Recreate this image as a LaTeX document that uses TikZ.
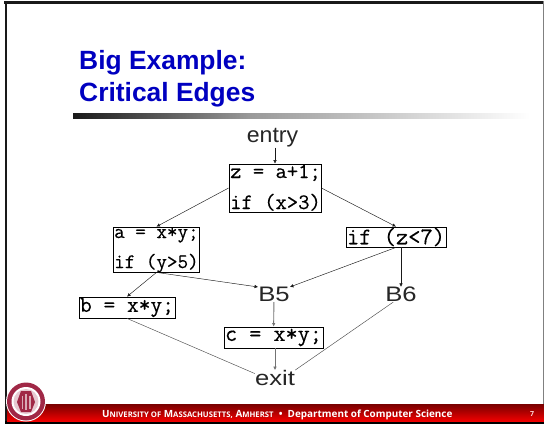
\documentclass[tikz,border=0pt]{standalone}
\usepackage{fontspec}
\setmainfont{Liberation Sans}
\newfontfamily\codefont[FakeBold=0.35]{Latin Modern Mono}
\newfontfamily\footfont{Open Sans}
\usetikzlibrary{arrows.meta,positioning,calc}
\definecolor{titleblue}{HTML}{0000C0}
\definecolor{umassred}{HTML}{A02846}
\definecolor{bandtop}{HTML}{780000}
\definecolor{bandlow}{HTML}{F00000}
\newcommand{\smcap}[2]{{\fontsize{9.9}{10}\selectfont #1}{\fontsize{7.7}{10}\selectfont #2}}

\begin{document}
\begin{tikzpicture}[
  x=1pt, y=-1pt,
  code/.style={draw, line width=0.8pt, rectangle, inner sep=0pt, align=left},
  word/.style={inner sep=0pt, text=black!85, font=\fontsize{21}{22}\selectfont},
  wide/.style={word, xscale=1.22},
  line/.style={-, line width=0.45pt, black!70},
  arr/.style={-{Latex[length=3.5pt,width=3.5pt]}, line width=0.45pt, black!90},
  heavy/.style={-{Latex[length=3.5pt,width=3.5pt]}, line width=0.9pt, black!55},
  foot/.style={text=white, inner sep=0pt, anchor=base west, font=\footfont\bfseries}
]
  \useasboundingbox (0,0) rectangle (544,424);
  % slide frame
  \fill[white] (0,0) rectangle (544,424);
  \fill[black!90] (4,1) rectangle (544,4);
  \fill[black!90] (5,1) rectangle (7,424);
  \fill[black!50] (543,1) rectangle (544,424);
  \fill[black] (5,421) rectangle (544,424);
  \shade[top color=bandtop, bottom color=bandlow] (7,404) rectangle (544,421);

  % title
  \node[anchor=base west, inner sep=0pt, text=titleblue, font=\fontsize{26.4}{32}\selectfont\bfseries] (title1) at (79,69) {Big Example:};
  \node[anchor=base west, inner sep=0pt, text=titleblue, font=\fontsize{26.4}{32}\selectfont\bfseries] (title2) at (79,101) {Critical Edges};
  \shade[left color=black!90, right color=black!40] (73,113) rectangle (250,118);
  \shade[left color=black!40, right color=white] (250,113) rectangle (530,118);

  % blocks
  \node[word, font=\fontsize{22}{24}\selectfont, xscale=1.05] (entry) at (272.5,138) {entry};
  \node[code, minimum width=92pt, minimum height=48pt] (zbox) at (275,188) {};
  \node[inner sep=0pt, anchor=base west, font=\fontsize{22}{24}\selectfont\codefont] (zline1) at (230,178) {z = a+1;};
  \node[inner sep=0pt, anchor=base west, font=\fontsize{22}{24}\selectfont\codefont] (zline2) at (230,209) {if (x>3)};
  \node[code, minimum width=100pt, minimum height=20pt, font=\fontsize{23.8}{24}\selectfont\codefont] (ifz) at (396,237) {if (z<7)};
  \node[code, minimum width=86pt, minimum height=45pt] (abox) at (156.5,249.5) {};
  \node[inner sep=0pt, anchor=base west, font=\fontsize{20.5}{24}\selectfont\codefont] (aline1) at (114,238) {a = x*y;};
  \node[inner sep=0pt, anchor=base west, font=\fontsize{20.5}{24}\selectfont\codefont] (aline2) at (114,268) {if (y>5)};
  \node[code, minimum width=96pt, minimum height=21pt, font=\fontsize{22.8}{24}\selectfont\codefont] (bbox) at (127,307.5) {b = x*y;};
  \node[code, minimum width=99pt, minimum height=21pt, font=\fontsize{23.5}{24}\selectfont\codefont] (cbox) at (273.5,337.5) {c = x*y;};
  \node[wide] (B5) at (274,294.5) {B5};
  \node[wide] (B6) at (401,294.5) {B6};
  \node[wide] (exit) at (275,378) {exit};

  % edges
  \draw[arr] (entry.south -| zbox.north) -- (zbox.north);
  \draw[arr] (zbox.west) -- (abox.north);
  \draw[arr] (zbox.east) -- (ifz.north);
  \draw[arr] (ifz.south) -- (B5.north east);
  \draw[arr] (ifz.south -| B6.north) -- (B6.north);
  \draw[arr] (abox.south) -- (bbox.north);
  \draw[arr] (abox.south) -- (B5.north west);
  \draw[heavy] (B5) -- (cbox);
  \draw[heavy] (cbox.south -| exit.north) -- (exit.north);
  \draw[line] (bbox.south) -- (exit.165);
  \draw[line] (B6.-130) -- (exit.north east);

  % footer
  \node[foot] (footer) at (102,417) {\smcap{U}{NIVERSITY OF} \smcap{M}{ASSACHUSETTS,} \smcap{A}{MHERST}\ \ \textbullet\ \ \fontsize{9.9}{10}\selectfont Department of Computer Science};
  \node[foot, anchor=base, font=\footfont\bfseries\fontsize{7}{8}\selectfont, text=white!85!red] (pageno) at (532,416) {7};

  % seal
  \fill[white] (26,401.5) circle (20);
  \fill[umassred] (26,401.5) circle (19);
  \fill[white] (26,401.5) circle (14.5);
  \fill[umassred!25] (26,401.5) circle (12.5);
  \fill[umassred] (21,391) -- (31,391) -- (35,402) -- (31,412) -- (21,412) -- (17,402) -- cycle;
  \fill[white!60!umassred] (21.5,396) rectangle (23,409);
  \fill[white!60!umassred] (25.2,394) rectangle (26.8,410);
  \fill[white!60!umassred] (29,396) rectangle (30.5,409);
\end{tikzpicture}
\end{document}
